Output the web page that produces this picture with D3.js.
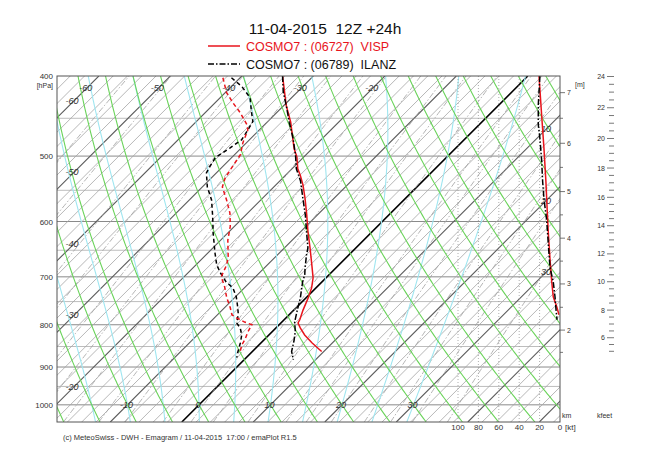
<!DOCTYPE html>
<html><head><meta charset="utf-8">
<script src="https://cdn.jsdelivr.net/npm/d3@7"></script>
<style>body{margin:0;background:#fff}text{font-family:"Liberation Sans",Arial,Helvetica,sans-serif}</style>
</head><body><svg id="c" width="650" height="455"></svg>
<script>
// ---------------- data ----------------
const titleText = "11-04-2015  12Z +24h";
const series1Name = "COSMO7 : (06727)  VISP";
const series2Name = "COSMO7 : (06789)  ILANZ";
const footerText = "(c) MeteoSwiss - DWH - Emagram / 11-04-2015  17:00 / emaPlot R1.5";

const pressureLabels = [400, 500, 600, 700, 800, 900, 1000];
const pressureGrid = [450, 500, 550, 600, 650, 700, 750, 800, 850, 900, 950, 1000];
const topTempLabels = [-60, -50, -40, -30, -20];
const leftTempLabels = [-60, -50, -40, -30, -20];
const bottomTempLabels = [-10, 0, 10, 20, 30];
const rightTempLabels = [10, 20, 30];
const windTicks = [100, 80, 60, 40, 20, 0];

// VISP temperature / dew point
const vispTp = [400, 434, 455, 490, 501, 518, 527, 542, 562, 589, 617, 646, 677, 702, 722, 742, 768, 789, 796, 807, 823, 841, 862];
const vispT  = [-34.3, -29.7, -26.7, -22.5, -21.0, -19.2, -18.0, -16.2, -14.1, -11.5, -9.0, -6.4, -3.8, -1.8, -0.6, 0.3, 1.3, 2.2, 2.4, 3.4, 5.0, 7.1, 9.7];
const vispTdp = [402, 419, 431, 443, 458, 465, 482, 498, 516, 531, 545, 565, 586, 608, 632, 661, 677, 700, 720, 742, 763, 778, 785, 794, 800, 815, 834, 846, 862];
const vispTd  = [-42.4, -39.8, -37.5, -35.1, -32.5, -31.6, -30.5, -29.2, -28.6, -28.1, -27.2, -24.8, -22.5, -20.6, -19.0, -16.7, -15.7, -14.8, -12.9, -11.1, -9.2, -8.0, -6.9, -5.2, -3.8, -3.4, -2.7, -2.4, -1.7];
// ILANZ temperature / dew point
const ilanzTp = [400, 418, 434, 455, 476, 498, 518, 536, 562, 589, 617, 646, 659, 683, 696, 710, 742, 770, 794, 815, 836, 862, 882];
const ilanzT  = [-34.3, -32.0, -29.7, -26.9, -24.1, -21.5, -19.4, -17.1, -14.4, -11.7, -9.2, -6.7, -5.9, -4.3, -3.4, -2.7, -0.8, 0.6, 1.8, 3.2, 4.3, 5.5, 6.9];
const ilanzTdp = [402, 412, 425, 440, 454, 465, 478, 489, 502, 515, 524, 545, 565, 592, 619, 655, 677, 692, 710, 722, 740, 761, 778, 796, 807, 823, 841, 862, 877];
const ilanzTd  = [-41.2, -38.5, -35.8, -33.9, -32.1, -31.6, -31.1, -31.6, -32.3, -31.8, -31.4, -29.3, -26.9, -24.4, -22.1, -19.0, -17.1, -15.5, -13.4, -11.6, -9.9, -8.3, -7.1, -6.2, -5.0, -3.8, -2.9, -2.0, -1.3];
// wind speed [kt]
const vispWp = [400, 446, 490, 537, 583, 618, 666, 710, 740, 761, 778];
const vispW  = [20.6, 18.0, 15.7, 13.8, 12.5, 11.5, 9.8, 8.1, 6.6, 3.2, 1.0];
const ilanzWp = [400, 434, 458, 476, 506, 537, 564, 597, 638, 682, 710, 740, 767, 789];
const ilanzW  = [19.7, 21.3, 21.3, 19.7, 18.0, 17.0, 15.7, 13.1, 11.5, 9.8, 6.6, 4.9, 3.9, 2.9];

// height axis (km) and the pressure at which each tick sits
const kmHeights = [1.5, 2, 2.5, 3, 3.5, 4, 4.5, 5, 5.5, 6, 6.5, 7];
const kmPress   = [864, 812, 762, 714, 670, 628.5, 589, 552, 516, 482.5, 450, 419];
const kmLabels = [2, 3, 4, 5, 6, 7];
const kfeetLabels = [6, 8, 10, 12, 14, 16, 18, 20, 22, 24];

// reference line families
const isothermStep = 2;
const dryAdiabats = [-40, -35, -30, -25, -20, -15, -10, -5, 0, 5, 10, 15, 20, 25, 30, 35, 40, 45, 50, 55, 60, 65, 70, 75, 80, 85, 90, 95, 100, 105, 110, 115, 120, 125, 130];
const moistAdiabats = [-15, -10, -5, 0, 5, 10, 15, 20, 25, 30];
const mixingRatios = [0.05, 0.1, 0.2, 0.3, 0.5, 0.7, 1, 1.5, 2, 3, 4, 5, 7, 10, 12, 15, 20, 25, 30, 40];

// ---------------- drawing ----------------
const svg = d3.select("#c");
const L = 57, R = 560, T0 = 76, B = 422;
const pTop = 400, pBot = 1049;
const y = d3.scaleLog().domain([pTop, pBot]).range([T0, B]);
const tx = d3.scaleLinear().domain([0, 10]).range([199, 270.5]);
const y1000 = y(1000);
const sx = (t, p) => tx(t) + (y1000 - y(p));
const wx = d3.scaleLinear().domain([0, 100]).range([R, 458]);

svg.append("defs").append("clipPath").attr("id", "clip")
  .append("rect").attr("x", L).attr("y", T0).attr("width", R - L).attr("height", B - T0);
const g = svg.append("g").attr("clip-path", "url(#clip)");
const pSteps = d3.range(pBot, pTop - 1, -5).concat([pTop]);
const line = d3.line().x(d => d[0]).y(d => d[1]);

// horizontal pressure grid
g.selectAll(".hp").data(pressureGrid).join("line")
  .attr("x1", L).attr("x2", R).attr("y1", d => y(d)).attr("y2", d => y(d))
  .attr("stroke", d => d % 100 === 0 ? "#8a8a8a" : "#bdbdbd").attr("stroke-width", 1);

// isotherms
const isos = d3.range(-70, 56, isothermStep);
g.selectAll(".iso").data(isos).join("line")
  .attr("x1", d => sx(d, pBot)).attr("y1", y(pBot)).attr("x2", d => sx(d, pTop)).attr("y2", y(pTop))
  .attr("stroke", d => d === 0 ? "#000" : (d % 10 === 0 ? "#5a5a5a" : "#a4a4a4"))
  .attr("stroke-width", d => d === 0 ? 1.6 : (d % 10 === 0 ? 1.1 : 0.8));

// mixing ratio lines
function tdOf(p, w) { const e = w * p / (622 + w); const l = Math.log(e / 6.112); return 243.5 * l / (17.67 - l); }
g.selectAll(".mr").data(mixingRatios).join("path")
  .attr("d", w => line(pSteps.map(p => [sx(tdOf(p, w), p), y(p)])))
  .attr("fill", "none").attr("stroke", "#a0a0a0").attr("stroke-width", 0.8).attr("stroke-dasharray", "6,2,1.5,2");

// saturated (pseudo) adiabats
const Rd = 287.04, cp = 1005.7, Lv = 2.501e6, eps = 0.622;
function dTdp(Tk, p) {
  const es = 6.112 * Math.exp(17.67 * (Tk - 273.15) / (Tk - 29.65));
  const rs = eps * es / (p - es);
  return ((Rd * Tk + Lv * rs) / (cp + Lv * Lv * rs * eps / (Rd * Tk * Tk))) / p;
}
function moist(thw) {
  let Tk = thw + 273.15, dp = -2;
  const up = [];
  for (let p = 1000; p >= pTop - 2; p += dp) { up.push([p, Tk]); const k1 = dTdp(Tk, p); const k2 = dTdp(Tk + k1 * dp / 2, p + dp / 2); Tk += k2 * dp; }
  Tk = thw + 273.15; dp = 2;
  const dn = [];
  for (let p = 1000; p <= pBot + 2; p += dp) { dn.push([p, Tk]); const k1 = dTdp(Tk, p); const k2 = dTdp(Tk + k1 * dp / 2, p + dp / 2); Tk += k2 * dp; }
  return dn.reverse().concat(up.slice(1)).map(d => [sx(d[1] - 273.15, d[0]), y(d[0])]);
}
g.selectAll(".ma").data(moistAdiabats).join("path")
  .attr("d", d => line(moist(d)))
  .attr("fill", "none").attr("stroke", "#9fe6f0").attr("stroke-width", 1.1);

// dry adiabats
g.selectAll(".da").data(dryAdiabats).join("path")
  .attr("d", th => line(pSteps.map(p => [sx((th + 273.15) * Math.pow(p / 1000, 0.2857) - 273.15, p), y(p)])))
  .attr("fill", "none").attr("stroke", "#6ad35a").attr("stroke-width", 1.1);

// wind speed grid
g.selectAll(".wg").data(windTicks.filter(d => d > 0)).join("line")
  .attr("x1", d => wx(d)).attr("x2", d => wx(d)).attr("y1", T0).attr("y2", B)
  .attr("stroke", "#9a9a9a").attr("stroke-width", 0.8).attr("stroke-dasharray", "1,2");

// isotherm labels
const lab = svg.append("g").attr("font-size", 9).attr("font-style", "italic").attr("fill", "#333")
  .attr("text-anchor", "middle").attr("dominant-baseline", "central");
topTempLabels.forEach(t => { const yy = 88; lab.append("text").attr("x", tx(t) + y1000 - yy - 1).attr("y", yy).text(t); });
leftTempLabels.forEach(t => { const xx = 72; lab.append("text").attr("x", xx).attr("y", tx(t) + y1000 - xx - 2).text(t); });
bottomTempLabels.forEach(t => { lab.append("text").attr("x", sx(t, 1000) - 1).attr("y", y1000).text(t); });
rightTempLabels.forEach(t => { const xx = 546; lab.append("text").attr("x", xx).attr("y", tx(t) + y1000 - xx).text(t); });

// profiles
const prof = (ps, vs) => line(ps.map((p, i) => [sx(vs[i], p), y(p)]));
const wprof = (ps, vs) => line(ps.map((p, i) => [wx(vs[i]), y(p)]));
const pg = svg.append("g").attr("clip-path", "url(#clip)").attr("fill", "none");
pg.append("path").attr("d", prof(ilanzTdp, ilanzTd)).attr("stroke", "#000").attr("stroke-width", 1.5).attr("stroke-dasharray", "4,3");
pg.append("path").attr("d", prof(vispTdp, vispTd)).attr("stroke", "#e8141c").attr("stroke-width", 1.5).attr("stroke-dasharray", "4,3");
pg.append("path").attr("d", prof(vispTp, vispT)).attr("stroke", "#e8141c").attr("stroke-width", 1.5);
pg.append("path").attr("d", prof(ilanzTp, ilanzT)).attr("stroke", "#000").attr("stroke-width", 1.5).attr("stroke-dasharray", "6,2,1.5,2");
pg.append("path").attr("d", wprof(vispWp, vispW)).attr("stroke", "#e8141c").attr("stroke-width", 1.5);
pg.append("path").attr("d", wprof(ilanzWp, ilanzW)).attr("stroke", "#000").attr("stroke-width", 1.5).attr("stroke-dasharray", "6,2,1.5,2");

// frame
svg.append("rect").attr("x", L).attr("y", T0).attr("width", R - L).attr("height", B - T0)
  .attr("fill", "none").attr("stroke", "#555").attr("stroke-width", 1);

// axes texts
const ax = svg.append("g").attr("font-size", 8).attr("fill", "#333");
ax.selectAll(".pl").data(pressureLabels).join("text")
  .attr("x", 53).attr("y", d => y(d) + 3).attr("text-anchor", "end").text(d => d);
ax.append("text").attr("x", 53).attr("y", 88).attr("text-anchor", "end").attr("font-size", 7).text("[hPa]");
ax.selectAll(".wl").data(windTicks).join("text")
  .attr("x", d => wx(d)).attr("y", 430).attr("text-anchor", "middle").text(d => d);
ax.append("text").attr("x", 565).attr("y", 430).text("[kt]");

// height axes
const hy = d3.scaleLinear().domain(kmHeights).range(kmPress.map(p => y(p)));
const ka = svg.append("g").attr("stroke", "#555").attr("stroke-width", 0.8);
ka.selectAll(".kt").data(kmHeights).join("line")
  .attr("x1", R).attr("x2", d => kmLabels.includes(d) ? R + 5 : R + 3)
  .attr("y1", d => hy(d)).attr("y2", d => hy(d));
const kt = svg.append("g").attr("font-size", 7).attr("fill", "#333");
kt.selectAll(".kl").data(kmLabels).join("text").attr("x", R + 7).attr("y", d => hy(d) + 2.5).text(d => d);
kt.append("text").attr("x", 575).attr("y", 87).text("[m]");
kt.append("text").attr("x", 562).attr("y", 418).text("km");
kt.append("text").attr("x", 597).attr("y", 418).text("kfeet");
const kfTicks = d3.range(5, 24.01, 0.5);
ka.selectAll(".ft").data(kfTicks).join("line")
  .attr("x1", d => kfeetLabels.includes(d) ? 607 : 609).attr("x2", 614)
  .attr("y1", d => hy(d * 0.3048)).attr("y2", d => hy(d * 0.3048));
kt.selectAll(".fl").data(kfeetLabels).join("text").attr("x", 605).attr("y", d => hy(d * 0.3048) + 2.5)
  .attr("text-anchor", "end").text(d => d);

// title & legend
svg.append("text").attr("x", 325).attr("y", 34).attr("text-anchor", "middle").attr("font-size", 15.5)
  .attr("fill", "#111").style("white-space", "pre").text(titleText);
svg.append("line").attr("x1", 208).attr("x2", 240).attr("y1", 46).attr("y2", 46).attr("stroke", "#e8141c").attr("stroke-width", 1.5);
svg.append("text").attr("x", 246).attr("y", 50.5).attr("font-size", 12.5).attr("fill", "#e8141c").style("white-space", "pre").text(series1Name);
svg.append("line").attr("x1", 208).attr("x2", 240).attr("y1", 64).attr("y2", 64).attr("stroke", "#000").attr("stroke-width", 1.3).attr("stroke-dasharray", "6,2,1.5,2");
svg.append("text").attr("x", 246).attr("y", 68.5).attr("font-size", 12.5).attr("fill", "#111").style("white-space", "pre").text(series2Name);

// footer
svg.append("text").attr("x", 63).attr("y", 440).attr("font-size", 7.5).attr("fill", "#333").style("white-space", "pre").text(footerText);
</script></body></html>
